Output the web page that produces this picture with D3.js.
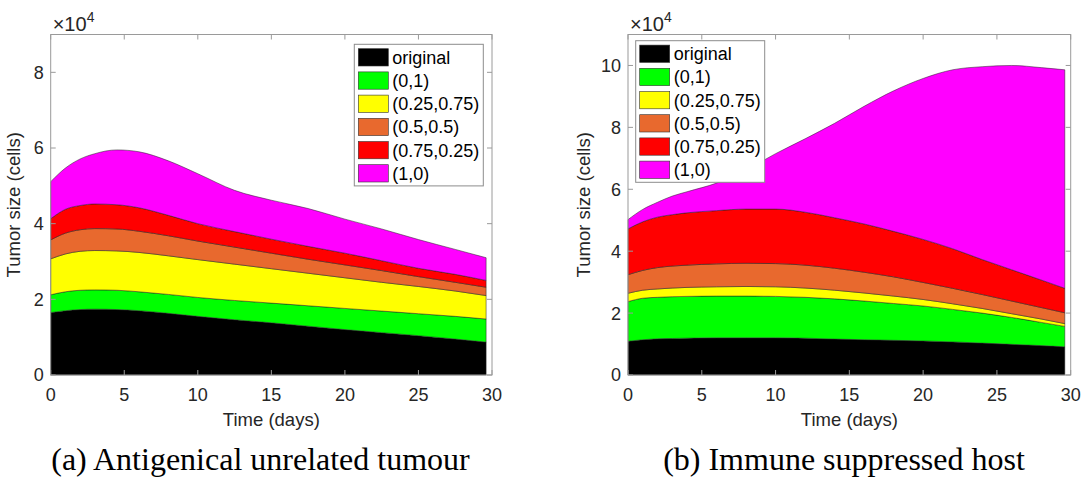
<!DOCTYPE html>
<html>
<head>
<meta charset="utf-8">
<script src="https://cdn.jsdelivr.net/npm/d3@7"></script>
<style>
  html, body { margin: 0; padding: 0; background: #fff; }
  svg { display: block; }
  .tick-label { font-family: "Liberation Sans", Arial, sans-serif; font-size: 18px; fill: #262626; }
  .axis-label { font-family: "Liberation Sans", Arial, sans-serif; font-size: 18.5px; fill: #262626; }
  .caption { font-family: "Liberation Serif", "DejaVu Serif", serif; font-size: 32px; fill: #000; }
</style>
</head>
<body>
<svg id="chart" width="1086" height="483"></svg>
<script>
// legend entries, bottom layer first
const legendLabels = ['original', '(0,1)', '(0.25,0.75)', '(0.5,0.5)', '(0.75,0.25)', '(1,0)'];

// (a) antigenical unrelated tumour, cells per population
const daysA = [0, 1, 2, 3, 4.5, 6, 8, 10, 12.5, 15, 17.5, 20, 22.5, 25, 27.5, 29.6];
const originalA = [16500, 17000, 17300, 17400, 17300, 17000, 16300, 15500, 14600, 13800, 12900, 12000, 11200, 10400, 9500, 8700];
const mix0A   = [4700, 5000, 5100, 5100, 5100, 5000, 5000, 5000, 5100, 5200, 5400, 5600, 5700, 5800, 6000, 6100];
const mix25A  = [9500, 10000, 10300, 10400, 10400, 10400, 10200, 10000, 9600, 9100, 8600, 8100, 7600, 7200, 6700, 6200];
const mix50A  = [5000, 5500, 5700, 5800, 5800, 5600, 5300, 4900, 4500, 4100, 3700, 3400, 3100, 2600, 2300, 2200];
const mix75A  = [5600, 6300, 6400, 6500, 6400, 6200, 5400, 4600, 4100, 3700, 3400, 3100, 2600, 2200, 2100, 1800];
const mix100A = [9800, 10900, 12300, 13300, 14500, 14800, 14400, 13200, 10900, 10300, 10000, 9000, 8400, 7600, 6600, 6000];

// (b) immune suppressed host
const daysB = [0, 1, 2, 3, 4, 6, 8, 10, 12, 14, 16, 18, 20, 22, 24, 26, 28, 29.6];
const originalB = [10900, 11400, 11700, 11800, 11900, 12000, 12000, 12000, 11900, 11600, 11400, 11200, 11000, 10700, 10300, 9900, 9500, 9100];
const mix0B   = [12800, 13400, 13400, 13500, 13500, 13500, 13500, 13400, 13200, 13000, 12500, 11900, 11300, 10500, 9700, 8700, 7500, 6600];
const mix25B  = [2700, 2600, 2700, 2800, 2900, 3000, 3100, 3100, 3000, 2800, 2600, 2400, 2100, 1800, 1500, 1200, 1100, 900];
const mix50B  = [6000, 6400, 6900, 7100, 7200, 7400, 7500, 7500, 7400, 7100, 6700, 6200, 5500, 5000, 4500, 4100, 3700, 3500];
const mix75B  = [14800, 15700, 16300, 16600, 16900, 17200, 17500, 17600, 17100, 16300, 15600, 14700, 13900, 12800, 11300, 10100, 8900, 7900];
const mix100B = [3000, 4000, 4800, 6000, 6800, 8900, 12600, 17900, 23700, 30500, 38000, 45400, 52000, 57800, 62300, 66000, 68600, 70600];

const xTicks = [0, 5, 10, 15, 20, 25, 30];
const yTicksA = [0, 2, 4, 6, 8];
const yTicksB = [0, 2, 4, 6, 8, 10];

const layerColors = ['#000000', '#00ff00', '#ffff00', '#e8692e', '#ff0000', '#ff00ff'];

const panels = [
  {
    days: daysA, series: [originalA, mix0A, mix25A, mix50A, mix75A, mix100A],
    yMax: 9, yTicks: yTicksA,
    left: 50.7, right: 492, yLabelX: 20,
    legend: { x: 354.3, y: 44.3 },
    caption: '(a) Antigenical unrelated tumour', captionX: 260.5
  },
  {
    days: daysB, series: [originalB, mix0B, mix25B, mix50B, mix75B, mix100B],
    yMax: 11, yTicks: yTicksB,
    left: 628, right: 1070.7, yLabelX: 590,
    legend: { x: 635.7, y: 40.7 },
    caption: '(b) Immune suppressed host', captionX: 844
  }
];

const plotTop = 34.5, plotBottom = 375;
const svg = d3.select('#chart');
const axisColor = '#9a9a9a';

panels.forEach(p => {
  const x = d3.scaleLinear().domain([0, 30]).range([p.left, p.right]);
  const y = d3.scaleLinear().domain([0, p.yMax * 1e4]).range([plotBottom, plotTop]);

  // rows for d3.stack
  const keys = legendLabels.map((_, i) => 'k' + i);
  const rows = p.days.map((d, j) => {
    const r = { day: d };
    p.series.forEach((s, i) => { r['k' + i] = s[j]; });
    return r;
  });
  const stacked = d3.stack().keys(keys)(rows);

  const area = d3.area()
    .x(d => x(d.data.day))
    .y0(d => y(d[0]))
    .y1(d => y(d[1]))
    .curve(d3.curveMonotoneX);

  const g = svg.append('g');

  g.selectAll('.layer')
    .data(stacked)
    .enter().append('path')
    .attr('class', 'layer')
    .attr('d', area)
    .attr('fill', (d, i) => layerColors[i])
    .attr('stroke', '#222')
    .attr('stroke-width', 0.5);

  // axis box (drawn on top like matlab)
  g.append('rect')
    .attr('x', p.left).attr('y', plotTop)
    .attr('width', p.right - p.left).attr('height', plotBottom - plotTop)
    .attr('fill', 'none')
    .attr('stroke', axisColor)
    .attr('stroke-width', 1);

  // x ticks, bottom + top, pointing inward
  xTicks.forEach(t => {
    const xx = x(t);
    g.append('line').attr('x1', xx).attr('x2', xx).attr('y1', plotBottom).attr('y2', plotBottom - 5)
      .attr('stroke', axisColor);
    g.append('line').attr('x1', xx).attr('x2', xx).attr('y1', plotTop).attr('y2', plotTop + 5)
      .attr('stroke', axisColor);
    g.append('text').attr('class', 'tick-label')
      .attr('x', xx).attr('y', plotBottom + 26)
      .attr('text-anchor', 'middle')
      .text(t);
  });

  // y ticks, left + right
  p.yTicks.forEach(t => {
    const yy = y(t * 1e4);
    g.append('line').attr('x1', p.left).attr('x2', p.left + 5).attr('y1', yy).attr('y2', yy)
      .attr('stroke', axisColor);
    g.append('line').attr('x1', p.right).attr('x2', p.right - 5).attr('y1', yy).attr('y2', yy)
      .attr('stroke', axisColor);
    g.append('text').attr('class', 'tick-label')
      .attr('x', p.left - 7).attr('y', yy)
      .attr('dy', '0.36em')
      .attr('text-anchor', 'end')
      .text(t);
  });

  // x10^4 exponent label
  const expo = g.append('text').attr('class', 'tick-label')
    .attr('x', p.left + 2).attr('y', 31)
    .style('font-size', '20px');
  expo.append('tspan').text('\u00d710');
  expo.append('tspan').attr('dy', -9.5).style('font-size', '14px').text('4');

  // axis labels
  g.append('text').attr('class', 'axis-label')
    .attr('x', (p.left + p.right) / 2).attr('y', 426)
    .attr('text-anchor', 'middle')
    .text('Time (days)');

  g.append('text').attr('class', 'axis-label')
    .attr('transform', `translate(${p.yLabelX}, ${(plotTop + plotBottom) / 2}) rotate(-90)`)
    .attr('text-anchor', 'middle')
    .text('Tumor size (cells)');

  // legend
  const lg = g.append('g').attr('transform', `translate(${p.legend.x}, ${p.legend.y})`);
  lg.append('rect')
    .attr('width', 129).attr('height', 141.6)
    .attr('fill', '#fff')
    .attr('stroke', '#8c8c8c')
    .attr('stroke-width', 1);
  legendLabels.forEach((lab, i) => {
    const ry = 4.4 + i * 23.2;
    lg.append('rect')
      .attr('x', 4).attr('y', ry)
      .attr('width', 30).attr('height', 17.3)
      .attr('fill', layerColors[i])
      .attr('stroke', '#333')
      .attr('stroke-width', 0.6);
    lg.append('text').attr('class', 'tick-label')
      .attr('x', 38).attr('y', ry + 8.65)
      .attr('dy', '0.36em')
      .style('fill', '#000')
      .text(lab);
  });

  // caption
  g.append('text').attr('class', 'caption')
    .attr('x', p.captionX).attr('y', 470)
    .attr('text-anchor', 'middle')
    .text(p.caption);
});
</script>
</body>
</html>
